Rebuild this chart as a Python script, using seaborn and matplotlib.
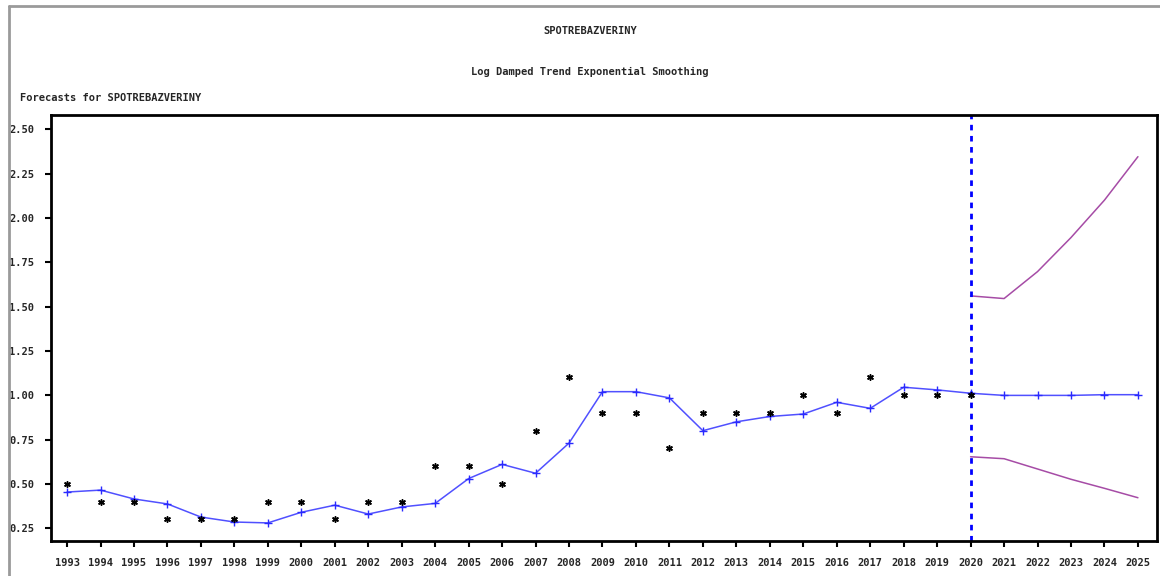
import numpy as np
import pandas as pd
import seaborn as sns
import matplotlib.pyplot as plt
from matplotlib.lines import Line2D

# data
years = list(range(1993, 2026))
actual_years = list(range(1993, 2021))
actual = [0.50, 0.40, 0.40, 0.30, 0.30, 0.30, 0.40, 0.40, 0.30, 0.40,
          0.40, 0.60, 0.60, 0.50, 0.80, 1.10, 0.90, 0.90, 0.70, 0.90,
          0.90, 0.90, 1.00, 0.90, 1.10, 1.00, 1.00, 1.00]
forecast = [0.454, 0.465, 0.415, 0.387, 0.313, 0.285, 0.280, 0.340, 0.380, 0.330,
            0.370, 0.390, 0.530, 0.610, 0.560, 0.730, 1.020, 1.020, 0.985, 0.800,
            0.850, 0.880, 0.894, 0.960, 0.926, 1.045, 1.030, 1.011, 0.999, 0.999,
            0.999, 1.003, 1.003]
band_years = [2020, 2021, 2022, 2023, 2024, 2025]
upper = [1.560, 1.545, 1.697, 1.889, 2.100, 2.345]
lower = [0.653, 0.642, 0.584, 0.526, 0.475, 0.422]
y_ticks = [0.25, 0.50, 0.75, 1.00, 1.25, 1.50, 1.75, 2.00, 2.25, 2.50]

fc_df = pd.DataFrame({'year': years, 'value': forecast})
act_df = pd.DataFrame({'year': actual_years, 'value': actual})
up_df = pd.DataFrame({'year': band_years, 'value': upper})
lo_df = pd.DataFrame({'year': band_years, 'value': lower})

sns.set_style("white")
plt.rcParams['font.family'] = ['DejaVu Sans Mono']
plt.rcParams['font.weight'] = 'bold'

fig = plt.figure(figsize=(11.6, 5.76), dpi=100)
ax = fig.add_axes([51 / 1160, 1 - 541 / 576, (1157 - 51) / 1160, (541 - 115) / 576])

band_col = '#a64ca6'
sns.lineplot(data=up_df, x='year', y='value', ax=ax, color=band_col, linewidth=1.1)
sns.lineplot(data=lo_df, x='year', y='value', ax=ax, color=band_col, linewidth=1.1)
sns.lineplot(data=fc_df, x='year', y='value', ax=ax, color='#5050ff', linewidth=1.1,
             marker='+', markersize=6, markeredgewidth=1.0, markeredgecolor='#2a2aff')
sns.scatterplot(data=act_df, x='year', y='value', ax=ax, marker=(6, 2, 0),
                s=16, color='black', linewidth=1.1, edgecolor='black', zorder=4)

ax.axvline(2020, color='#0000ff', linestyle=(0, (2, 2)), linewidth=2)

ax.set_xlim(1992.52, 2025.57)
ax.set_ylim(0.178, 2.58)
ax.set_xticks(years)
ax.set_xticklabels([str(y) for y in years], fontsize=7.5, fontweight='bold')
ax.set_yticks(y_ticks)
ax.set_yticklabels([f'{v:.2f}' for v in y_ticks], fontsize=7.5, fontweight='bold')
ax.tick_params(axis='both', direction='out', length=4, width=1.5, color='black',
               left=True, bottom=True, pad=8)
ax.set_xlabel('')
ax.set_ylabel('')
for s in ax.spines.values():
    s.set_color('black')
    s.set_linewidth(2)

fig.text(590 / 1160, 1 - 31 / 576, 'SPOTREBAZVERINY', ha='center', va='center',
         fontsize=7.5, fontweight='bold')
fig.text(590 / 1160, 1 - 72 / 576, 'Log Damped Trend Exponential Smoothing',
         ha='center', va='center', fontsize=7.5, fontweight='bold')
fig.text(20 / 1160, 1 - 98 / 576, 'Forecasts for SPOTREBAZVERINY', ha='left',
         va='center', fontsize=7.5, fontweight='bold')

# grey outer frame (left and top only)
fig.add_artist(Line2D([9 / 1160, 9 / 1160], [0, 1 - 6 / 576], color='#9a9a9a',
                      linewidth=2, transform=fig.transFigure))
fig.add_artist(Line2D([9 / 1160, 1], [1 - 6 / 576, 1 - 6 / 576], color='#9a9a9a',
                      linewidth=2, transform=fig.transFigure))

fig.savefig('out.png', dpi=100)
